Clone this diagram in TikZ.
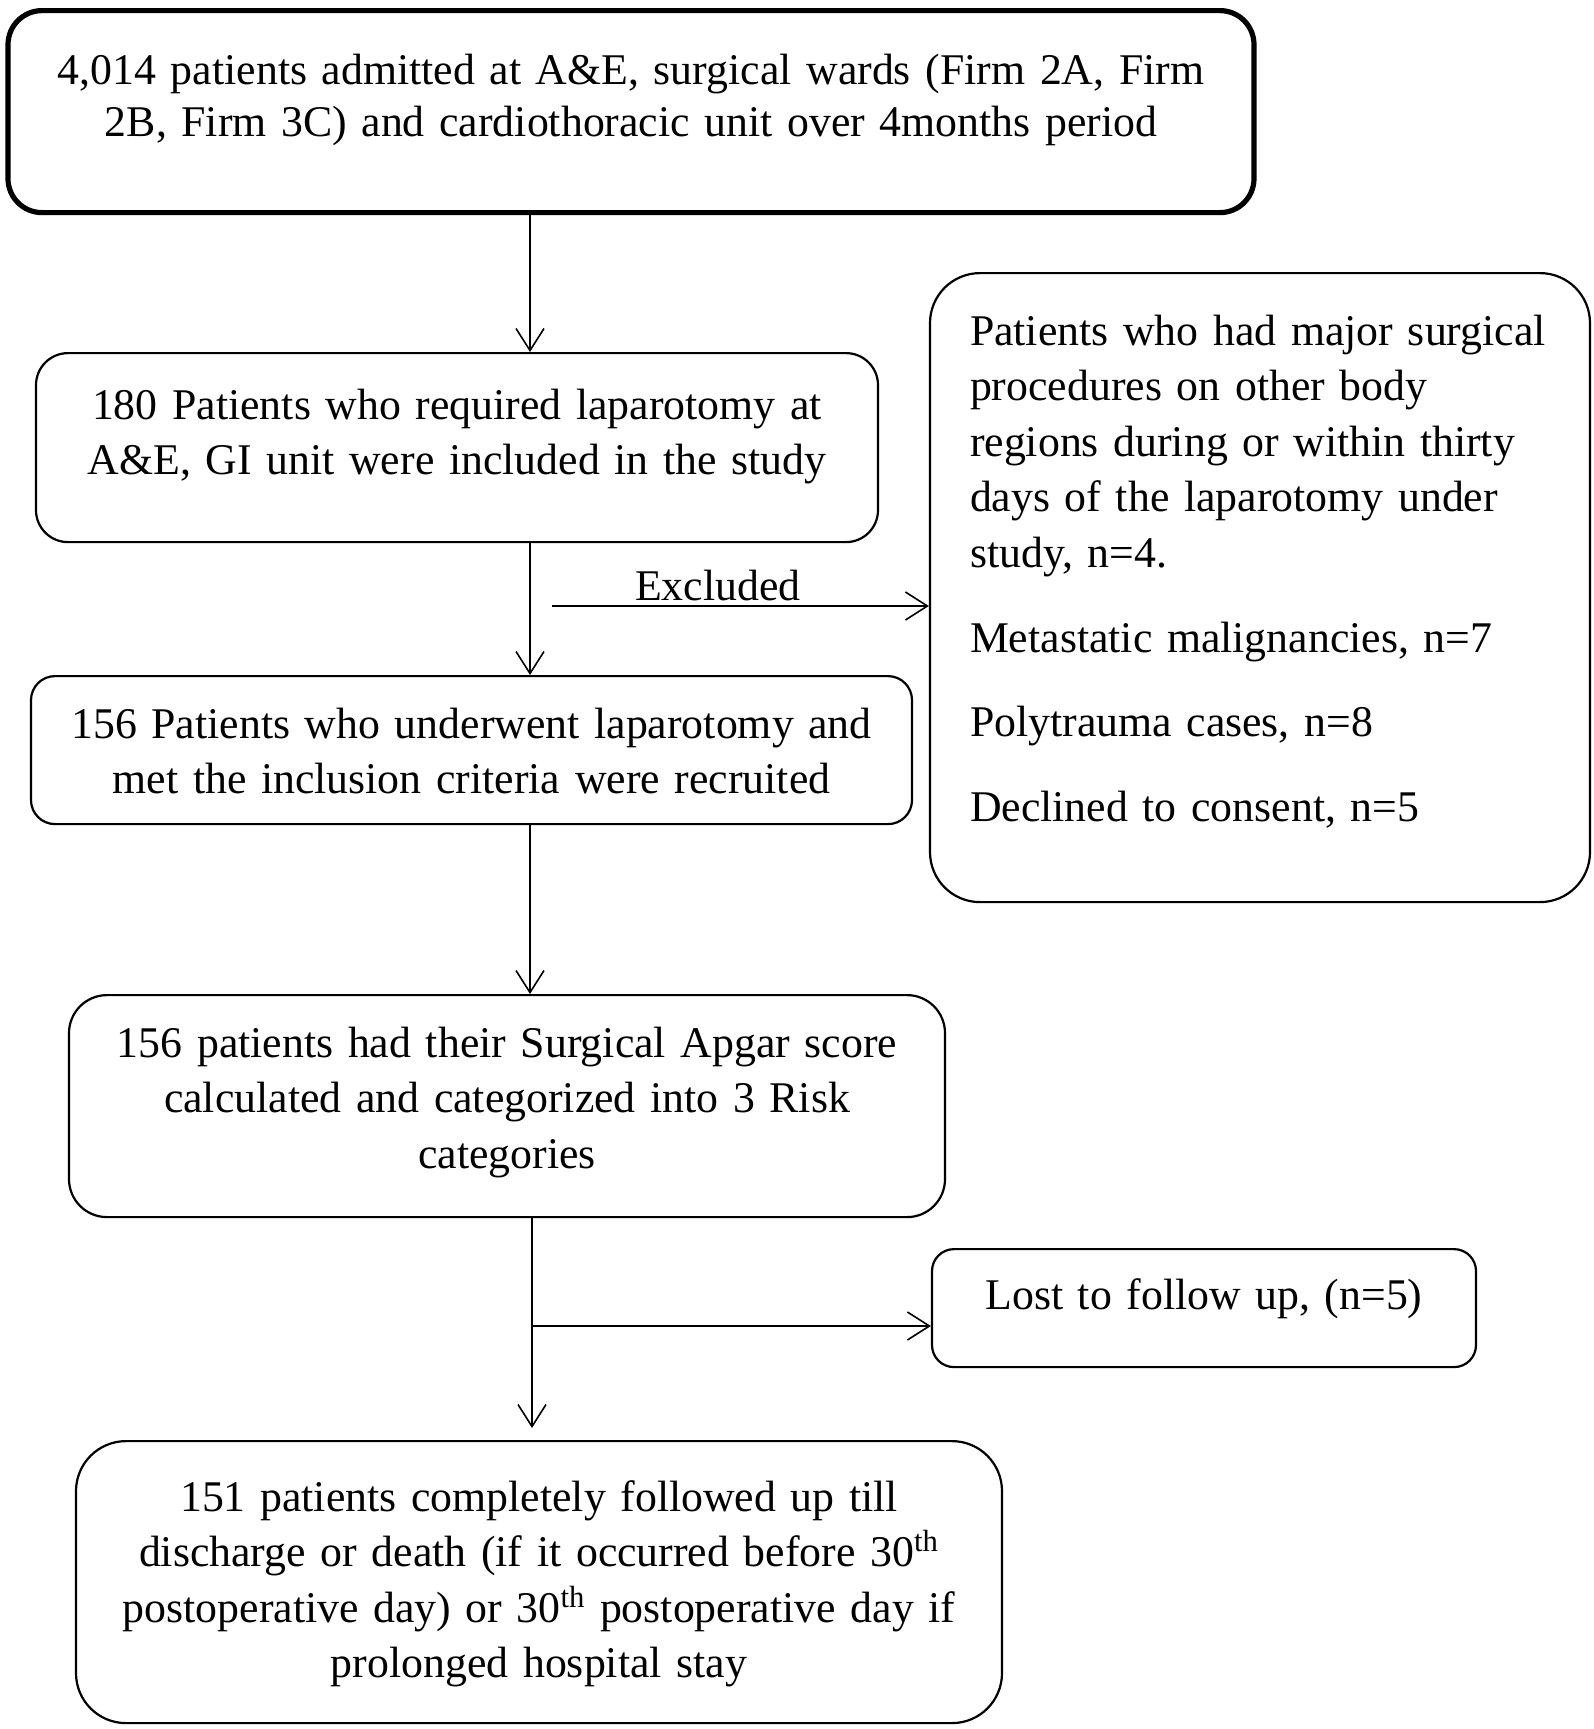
\documentclass[tikz,border=0pt]{standalone}
\usepackage{fontspec}
\setmainfont{Liberation Serif}
\usepackage{tikz}
\usetikzlibrary{arrows.meta,positioning,calc}
\hyphenpenalty=10000

\begin{document}
\begin{tikzpicture}[x=0.5pt,y=-0.5pt,
  every node/.style={font=\fontsize{21.9pt}{27.8pt}\selectfont},
  bx/.style={draw,line width=1.1pt,inner xsep=10pt,inner ysep=0pt,align=center,anchor=north},
  ar/.style={line width=0.8pt,-{Straight Barb[length=11pt,width=14pt]}}]
\useasboundingbox (0,0) rectangle (1594,1729);
% main column
\coordinate (spine) at (530,0);
\node[bx,line width=2.6pt,rounded corners=17pt,text width=603pt,text height=37pt,text depth=64pt,
  font=\fontsize{21.9pt}{26pt}\selectfont] (adm) at (631,8)
  {4,014 patients admitted at A\&E, surgical wards (Firm 2A, Firm\\
   2B, Firm 3C) and cardiothoracic unit over 4months period};
\node[bx,rounded corners=16pt,text width=401pt,text height=33pt,text depth=61.5pt] (incl) at (457,352)
  {180 Patients who required laparotomy at\\ A\&E, GI unit were included in the study};
\node[bx,rounded corners=12pt,text width=420.5pt,text height=31pt,text depth=43pt] (recr) at (471.5,675)
  {156 Patients who underwent laparotomy and\\ met the inclusion criteria were recruited};
\node[bx,rounded corners=19pt,text width=418pt,text height=31pt,text depth=80pt] (apgar) at (507,994)
  {156 patients had their Surgical Apgar score\\ calculated and categorized into 3 Risk\\ categories};
\node[bx,rounded corners=25pt,text width=443pt,text height=35pt,text depth=106pt] (fu) at (539,1440)
  {151 patients completely followed up till\\
   discharge or death (if it occurred before 30\textsuperscript{th}\\
   postoperative day) or 30\textsuperscript{th} postoperative day if\\
   prolonged hospital stay};
% side boxes
\node[bx,align=left,rounded corners=25pt,inner xsep=20pt,text width=290pt,text height=36pt,text depth=278.5pt] (excl) at (1260,272)
  {Patients who had major surgical\\ procedures on other body\\ regions during or within thirty\\
   days of the laparotomy under\\ study, n=4.\\[14.5pt]
   Metastatic malignancies, n=7\\[14.5pt]
   Polytrauma cases, n=8\\[14.5pt]
   Declined to consent, n=5};
\node[bx,rounded corners=11pt,text width=252pt,text height=30pt,text depth=29pt] (lost) at (1204,1248)
  {Lost to follow up, (n=5)};
% arrows
\draw[ar] (adm.south -| spine) -- (incl.north -| spine);
\draw[ar] (incl.south -| spine) -- (recr.north -| spine);
\coordinate (exfrom) at (552,606);
\draw[ar] (exfrom) -- node[above,pos=0.44,inner sep=2pt] (exlbl) {Excluded} (exfrom -| excl.west);
\draw[ar] (recr.south -| spine) -- (apgar.north -| spine);
\coordinate (split) at (532,1326);
\draw[ar,shorten >=6pt] (apgar.south -| split) -- (fu.north -| split);
\draw[ar] (split) -- (split -| lost.west);
\end{tikzpicture}
\end{document}
